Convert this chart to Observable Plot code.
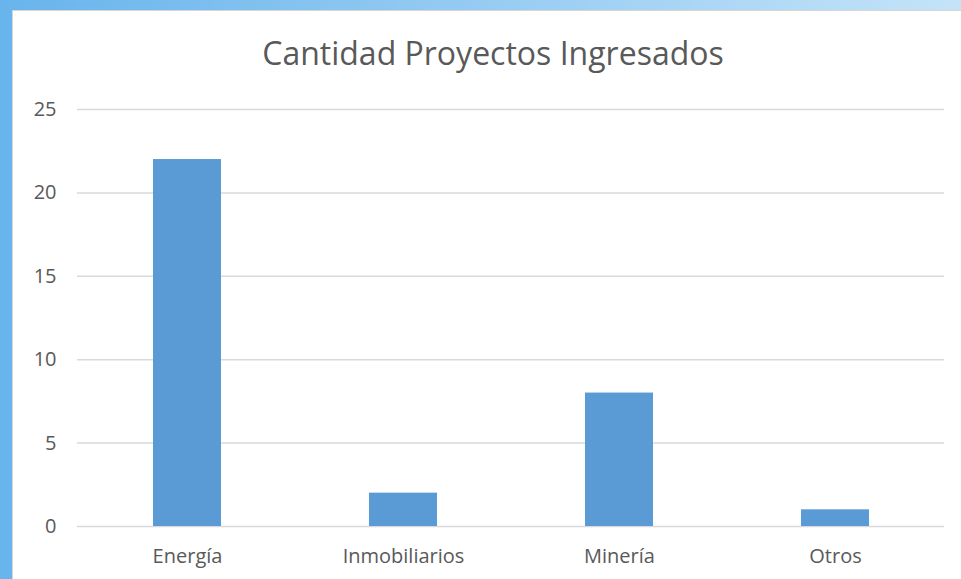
<!DOCTYPE html>
<html><head><meta charset="utf-8">
<script src="https://cdn.jsdelivr.net/npm/d3@7"></script>
<script src="https://cdn.jsdelivr.net/npm/@observablehq/plot@0.6"></script>
<style>
html,body{margin:0;padding:0;}
body{width:961px;height:579px;overflow:hidden;position:relative;background:linear-gradient(to right,#68b4ec,#c4e3f8);font-family:"Open Sans",sans-serif;}
#panel{position:absolute;left:12px;top:10px;width:949px;height:569px;background:#fff;border-top:1px solid #d6d6d6;border-left:1px solid #d6d6d6;box-sizing:border-box;}
#title{position:absolute;left:493px;top:37px;transform:translateX(-50%);font-size:32px;line-height:32px;color:#595959;white-space:nowrap;}
#chart{position:absolute;left:12px;top:90px;}
</style></head>
<body>
<div id="panel"></div>
<div id="title">Cantidad Proyectos Ingresados</div>
<div id="chart"></div>
<script>
const categories = ["Energía", "Inmobiliarios", "Minería", "Otros"];
const values = [22, 2, 8, 1];
const yTicks = [0, 5, 10, 15, 20, 25];

const data = categories.map((c, i) => ({cat: c, value: values[i]}));

const chart = Plot.plot({
  width: 949, height: 489,
  marginTop: 19, marginBottom: 53, marginLeft: 65, marginRight: 17,
  style: {fontFamily: '"Open Sans", sans-serif', fontSize: "20px", color: "#595959", background: "transparent"},
  x: {domain: categories, paddingInner: 0.686, paddingOuter: 0.343, label: null, tickSize: 0, tickPadding: 22},
  y: {domain: [0, 25], ticks: yTicks, label: null, tickSize: 0, tickPadding: 21},
  marks: [
    Plot.ruleY(yTicks, {stroke: "#d9d9d9", strokeWidth: 1.5}),
    Plot.barY(data, {x: "cat", y: "value", fill: "#5b9bd5"})
  ]
});
document.getElementById("chart").appendChild(chart);
</script>
</body></html>
